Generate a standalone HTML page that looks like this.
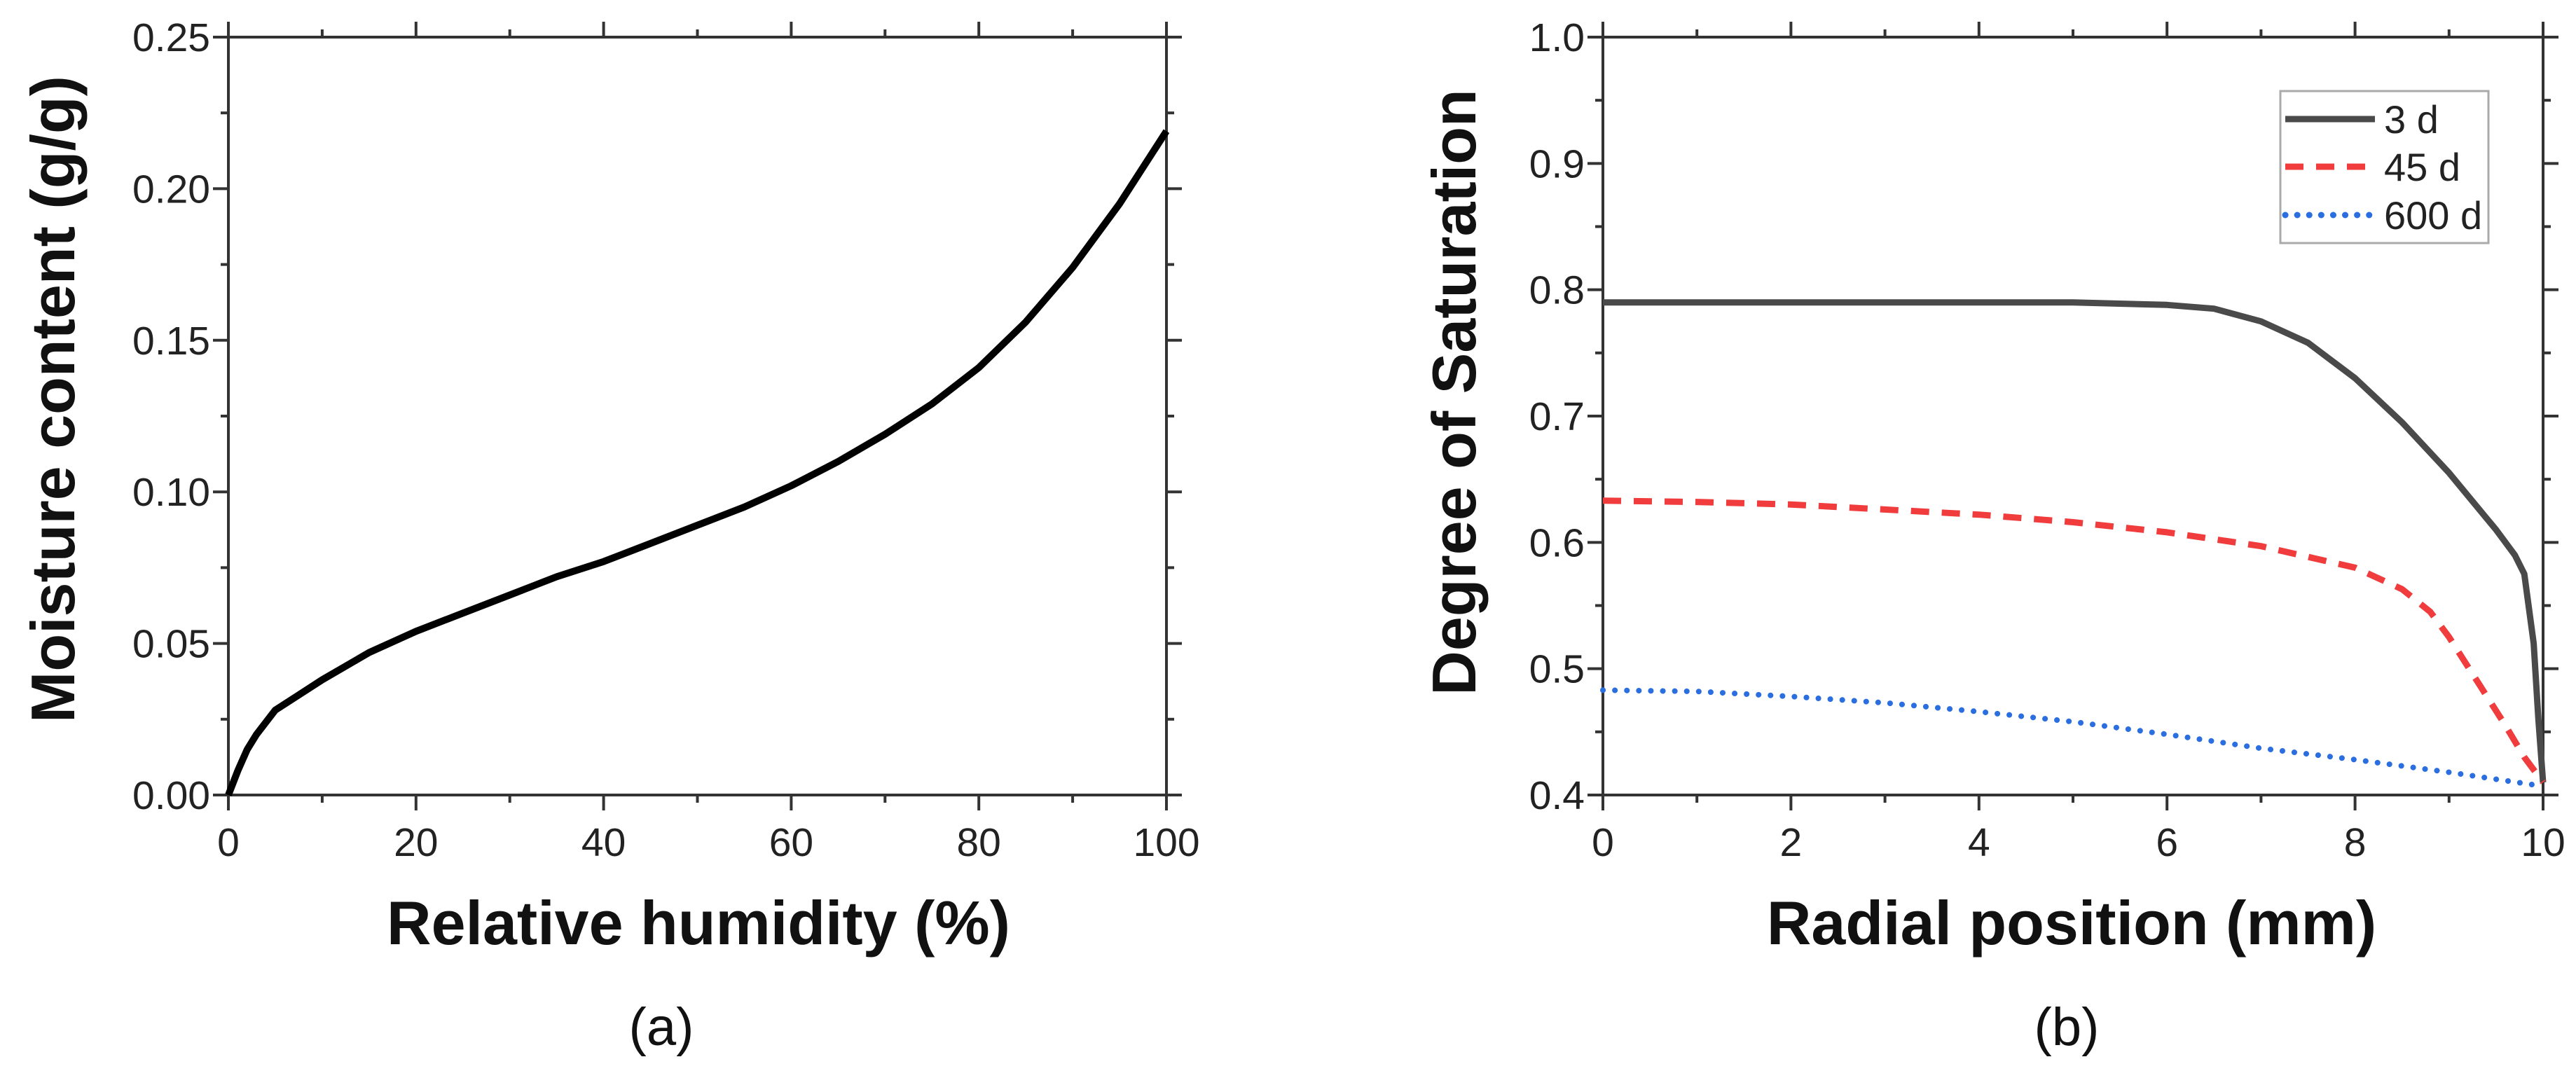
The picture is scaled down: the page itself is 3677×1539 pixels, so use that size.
<!DOCTYPE html>
<html><head><meta charset="utf-8"><style>
html,body{margin:0;padding:0;background:#fff;}
svg{display:block;font-family:"Liberation Sans",Arial,sans-serif;}
</style></head><body>
<svg id="fig" width="3677" height="1539" viewBox="0 0 3677 1539" xmlns="http://www.w3.org/2000/svg"></svg>
<script>
// Panel (a) data
const rhX = [0,1,2,3,5,7.5,10,15,20,25,30,35,40,45,50,55,60,65,70,75,80,85,90,95,97.5,100];
const mcY = [0,0.008,0.015,0.02,0.028,0.033,0.038,0.047,0.054,0.060,0.066,0.072,0.077,0.083,0.089,0.095,0.102,0.110,0.119,0.129,0.141,0.156,0.174,0.195,0.207,0.219];
const aXTicks = [0,20,40,60,80,100];
const aYTicks = [0.00,0.05,0.10,0.15,0.20,0.25];
const aYTickLabels = ["0.00","0.05","0.10","0.15","0.20","0.25"];
// Panel (b) data
const pos3 = [0,1,2,3,4,5,6,6.5,7,7.5,8,8.5,9,9.5,9.7,9.8,9.9,9.95,10];
const sat3 = [0.79,0.79,0.79,0.79,0.79,0.79,0.788,0.785,0.775,0.758,0.73,0.695,0.655,0.61,0.59,0.575,0.52,0.46,0.41];
const pos45 = [0,1,2,3,4,5,6,7,8,8.5,8.8,9,9.3,9.6,9.8,10];
const sat45 = [0.633,0.632,0.63,0.626,0.622,0.616,0.608,0.597,0.58,0.563,0.545,0.525,0.49,0.455,0.43,0.41];
const pos600 = [0,1,2,3,4,5,6,7,8,9,10];
const sat600 = [0.483,0.482,0.478,0.473,0.466,0.458,0.448,0.437,0.428,0.418,0.407];
const bXTicks = [0,2,4,6,8,10];
const bYTicks = [0.4,0.5,0.6,0.7,0.8,0.9,1.0];
const bYTickLabels = ["0.4","0.5","0.6","0.7","0.8","0.9","1.0"];

const NS="http://www.w3.org/2000/svg";
const svg=document.getElementById('fig');
function mk(tag,attrs,parent){const e=document.createElementNS(NS,tag);for(const k in attrs)e.setAttribute(k,attrs[k]);(parent||svg).appendChild(e);return e;}

function panel(o){
  const g=mk('g',{});
  
  
  const sx=v=>o.x0+(v-o.xmin)/(o.xmax-o.xmin)*(o.x1-o.x0);
  const sy=v=>o.y1-(v-o.ymin)/(o.ymax-o.ymin)*(o.y1-o.y0);
  const ax='#333';
  const fr=mk('rect',{x:o.x0,y:o.y0,width:o.x1-o.x0,height:o.y1-o.y0,fill:'none',stroke:ax,'stroke-width':4},g);
  
  
  const nx=Math.round((o.xmax-o.xmin)/o.xminor);
  for(let i=0;i<=nx;i++){
    const v=o.xmin+i*o.xminor, X=sx(v);
    const major=i%2===0, L=major?22:11;
    mk('line',{x1:X,y1:o.y1,x2:X,y2:o.y1+L,stroke:ax,'stroke-width':4},g);
    mk('line',{x1:X,y1:o.y0,x2:X,y2:o.y0-L,stroke:ax,'stroke-width':4},g);
  }
  const ny=Math.round((o.ymax-o.ymin)/o.yminor);
  for(let i=0;i<=ny;i++){
    const v=o.ymin+i*o.yminor, Y=sy(v);
    const major=i%2===0, L=major?22:11;
    mk('line',{x1:o.x0,y1:Y,x2:o.x0-L,y2:Y,stroke:ax,'stroke-width':4},g);
    mk('line',{x1:o.x1,y1:Y,x2:o.x1+L,y2:Y,stroke:ax,'stroke-width':4},g);
  }
  o.xticks.forEach(v=>{
    const t=mk('text',{x:sx(v),y:o.y1+87,'text-anchor':'middle','font-size':57,fill:'#222'},g);
    t.textContent=String(v);
    
    
  });
  o.yticks.forEach((v,i)=>{
    const t=mk('text',{x:o.x0-26,y:sy(v)+20,'text-anchor':'end','font-size':57,fill:'#222'},g);
    t.textContent=o.ylabels[i];
    
    
  });
  o.series.forEach(s=>{
    const d=s.x.map((v,i)=>(i?'L':'M')+sx(v).toFixed(1)+','+sy(s.y[i]).toFixed(1)).join(' ');
    const p=mk('path',{d:d,fill:'none',stroke:s.color,'stroke-width':s.w,'stroke-dasharray':s.dash||'none','stroke-linecap':s.cap||'butt','stroke-linejoin':'round'},g);
    
    
  });
  const xt=mk('text',{x:o.xtx,y:1348,'text-anchor':'middle','font-size':88,'font-weight':'bold',fill:'#111'},g);
  xt.textContent=o.xtitle;
  
  
  const yt=mk('text',{x:0,y:0,'text-anchor':'middle','font-size':88,'font-weight':'bold',fill:'#111',transform:`translate(${o.ytx},${o.yty}) rotate(-90)`},g);
  yt.textContent=o.ytitle;
  
  
  const cap=mk('text',{x:o.capx,y:1492,'text-anchor':'middle','font-size':76,fill:'#111'},g);
  cap.textContent=o.caption;
  
  
  return g;
}

panel({name:'panel-a',x0:326,x1:1665,y0:53,y1:1135,xmin:0,xmax:100,ymin:0,ymax:0.25,xminor:10,yminor:0.025,
  xticks:aXTicks,yticks:aYTicks,ylabels:aYTickLabels,
  series:[{name:'moisture-curve',x:rhX,y:mcY,color:'#000',w:10}],
  xtitle:'Relative humidity (%)',xtx:997,ytitle:'Moisture content (g/g)',ytx:106,yty:570,caption:'(a)',capx:944});

panel({name:'panel-b',x0:2288,x1:3630,y0:53,y1:1135,xmin:0,xmax:10,ymin:0.4,ymax:1.0,xminor:1,yminor:0.05,
  xticks:bXTicks,yticks:bYTicks,ylabels:bYTickLabels,
  series:[
    {name:'series-3d',x:pos3,y:sat3,color:'#4a4a4a',w:9},
    {name:'series-45d',x:pos45,y:sat45,color:'#f03c3c',w:9,dash:'26 18'},
    {name:'series-600d',x:pos600,y:sat600,color:'#2a6ee0',w:8,dash:'0.1 17',cap:'round'}],
  xtitle:'Radial position (mm)',xtx:2957,ytitle:'Degree of Saturation',ytx:2106,yty:560,caption:'(b)',capx:2950});

const lg=mk('g',{});


mk('rect',{x:3255,y:130,width:297,height:217,fill:'#fff',stroke:'#aaa','stroke-width':3},lg);
const legItems=[["3 d",'#4a4a4a','none',170,'butt'],["45 d",'#f03c3c','26 18',238,'butt'],["600 d",'#2a6ee0','0.1 17',307,'round']];
legItems.forEach(it=>{
  const l=mk('line',{x1:3262,y1:it[3],x2:3390,y2:it[3],stroke:it[1],'stroke-width':9,'stroke-dasharray':it[2],'stroke-linecap':it[4]},lg);
  
  
  const t=mk('text',{x:3403,y:it[3]+20,'font-size':56,fill:'#222'},lg);
  t.textContent=it[0];
  
  
});
</script>
</body></html>
